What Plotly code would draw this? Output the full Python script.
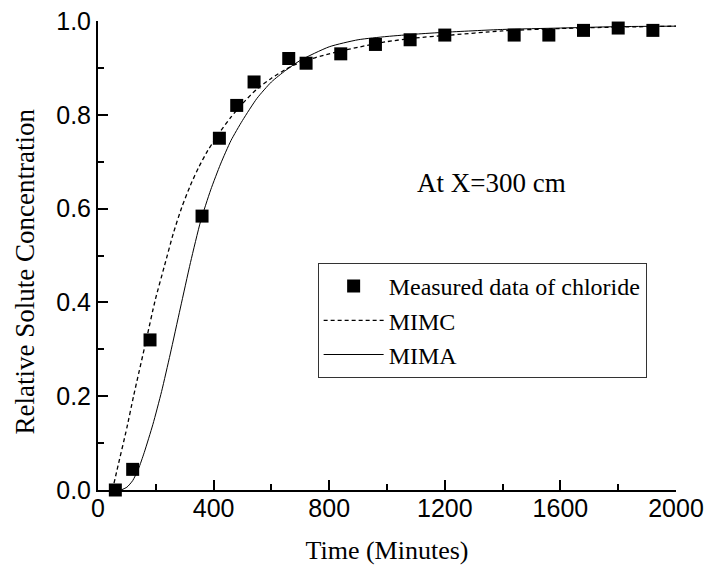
import plotly.graph_objects as go

# Measured data (chloride)
time_measured = [60, 120, 180, 360, 420, 480, 540, 660, 720, 840, 960, 1080, 1200, 1440, 1560, 1680, 1800, 1920]
conc_measured = [0.0, 0.044, 0.32, 0.584, 0.75, 0.82, 0.87, 0.92, 0.91, 0.93, 0.95, 0.96, 0.97, 0.97, 0.97, 0.98, 0.985, 0.98]

# MIMC model curve (dashed)
time_mimc = [50, 66, 100, 123, 167, 198, 230, 261, 290, 320, 350, 380, 424, 460, 500, 550, 600, 650, 700,
             800, 900, 1000, 1100, 1200, 1400, 1600, 1800, 2000]
conc_mimc = [0.0, 0.043, 0.133, 0.2, 0.32, 0.405, 0.478, 0.548, 0.603, 0.650, 0.690, 0.724, 0.765, 0.795,
             0.824, 0.855, 0.878, 0.897, 0.912, 0.930, 0.944, 0.956, 0.964, 0.969, 0.979, 0.984, 0.987, 0.989]

# MIMA model curve (solid)
time_mima = [80, 100, 120, 140, 160, 190, 220, 250, 285, 320, 355, 390, 424, 460, 500, 550, 600, 650, 700,
             800, 900, 1000, 1100, 1200, 1400, 1600, 1800, 2000]
conc_mima = [0.0, 0.006, 0.02, 0.045, 0.08, 0.14, 0.21, 0.29, 0.388, 0.485, 0.573, 0.64, 0.695, 0.745,
             0.788, 0.835, 0.870, 0.895, 0.916, 0.945, 0.960, 0.967, 0.972, 0.976, 0.982, 0.985, 0.988, 0.989]

serif = "Liberation Serif"
sans = "Liberation Sans"

fig = go.Figure()
fig.add_trace(go.Scatter(
    x=time_measured, y=conc_measured, mode="markers", name="Measured data of chloride",
    marker=dict(symbol="square", size=13, color="black"), cliponaxis=False))
fig.add_trace(go.Scatter(
    x=time_mimc, y=conc_mimc, mode="lines", name="MIMC",
    line=dict(color="black", width=1.3, dash="4px,3px", shape="spline", smoothing=0.6)))
fig.add_trace(go.Scatter(
    x=time_mima, y=conc_mima, mode="lines", name="MIMA",
    line=dict(color="black", width=1, shape="spline", smoothing=0.6)))

axis_common = dict(
    showline=True, linecolor="black", linewidth=2, mirror=False,
    ticks="inside", ticklen=10, tickwidth=2, tickcolor="black",
    showgrid=False, zeroline=False, automargin=False,
    tickfont=dict(family=sans, size=25, color="black"),
)

fig.update_layout(
    width=705, height=571,
    margin=dict(l=98, r=29, t=21, b=81),
    plot_bgcolor="white", paper_bgcolor="white",
    xaxis=dict(range=[0, 2000], tick0=0, dtick=400, ticklabelstandoff=-5,
               minor=dict(ticks="inside", ticklen=6, tickwidth=2, tickcolor="black", dtick=200),
               title=dict(text="Time (Minutes)", font=dict(family=serif, size=26, color="black"), standoff=20),
               **axis_common),
    yaxis=dict(range=[0, 1], tick0=0, dtick=0.2, tickformat=".1f",
               minor=dict(ticks="inside", ticklen=6, tickwidth=2, tickcolor="black", dtick=0.1),
               **axis_common),
    legend=dict(x=0.38, y=0.484, xanchor="left", yanchor="top",
                bordercolor="#333", borderwidth=1, bgcolor="white",
                font=dict(family=serif, size=24, color="black"), itemwidth=60),
    showlegend=True,
    annotations=[
        dict(x=1363, y=0.655, xref="x", yref="y", text="At X=300 cm", showarrow=False,
             font=dict(family=serif, size=27, color="black")),
        dict(x=-0.127, y=0.465, xref="paper", yref="paper", text="Relative Solute Concentration",
             textangle=-90, showarrow=False, xanchor="center", yanchor="middle",
             font=dict(family=serif, size=27, color="black")),
    ],
)

fig.write_html("out.html")
